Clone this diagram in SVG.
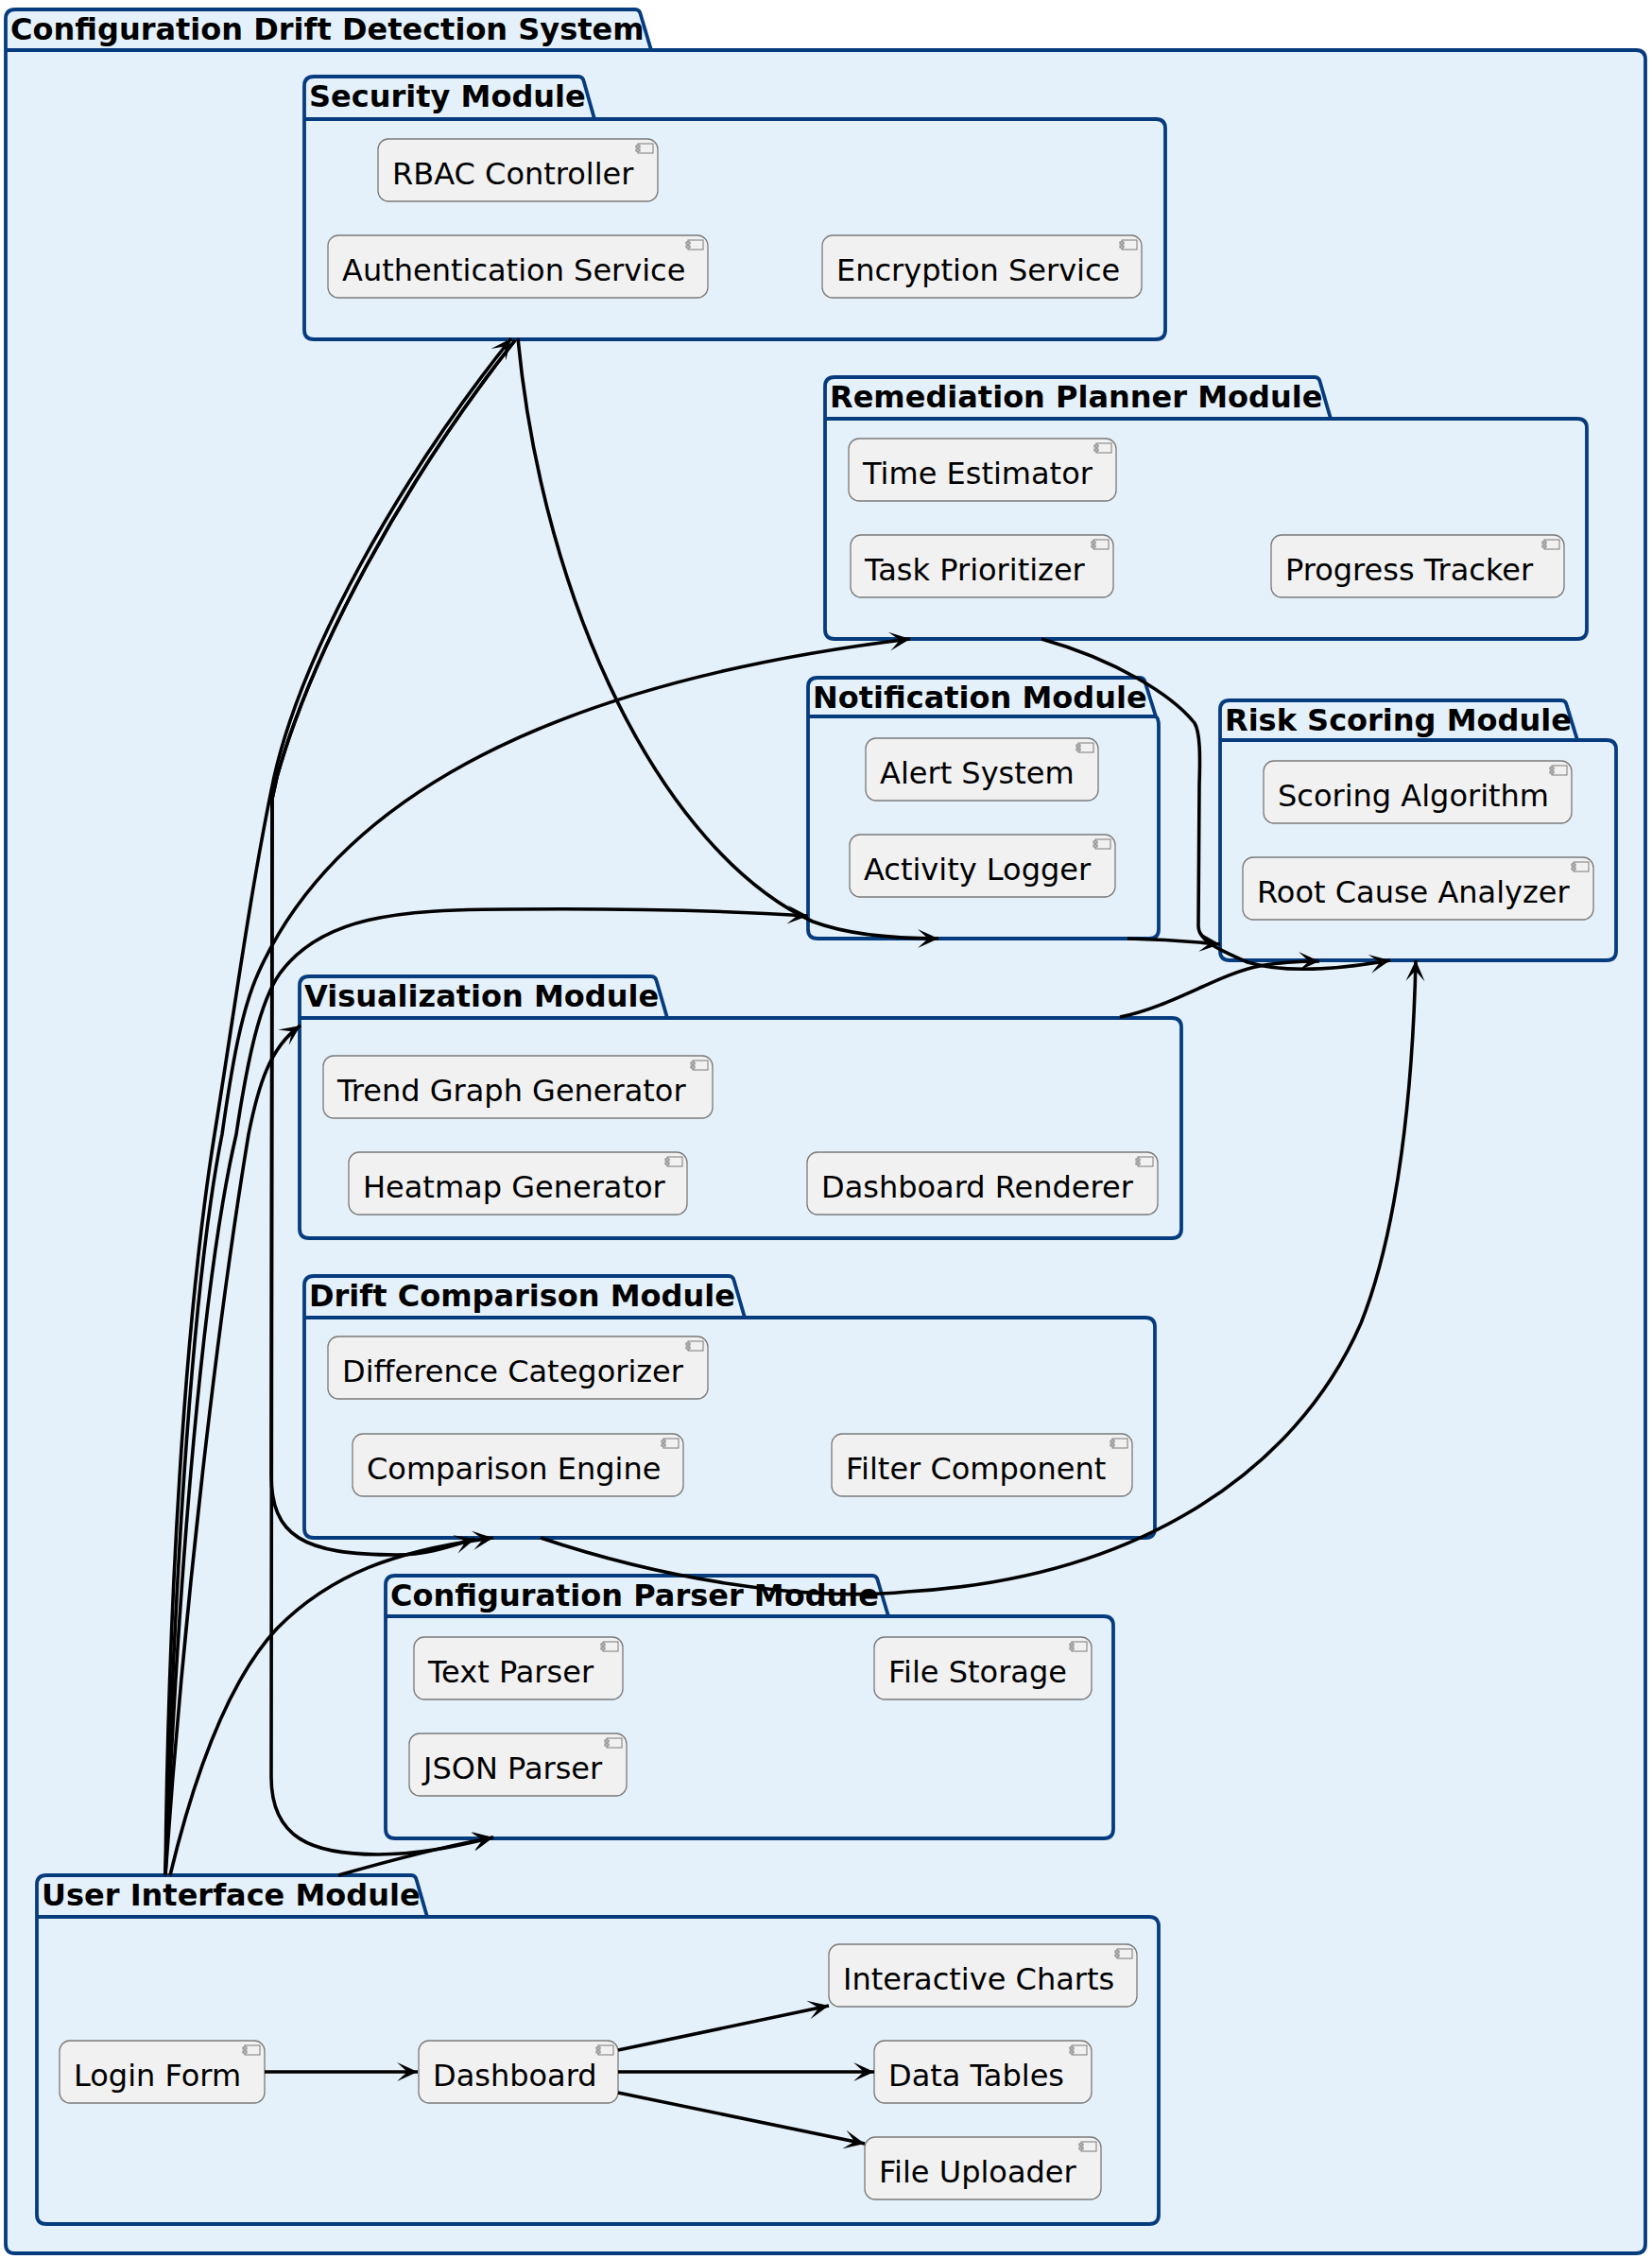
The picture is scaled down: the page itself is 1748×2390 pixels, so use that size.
<svg xmlns="http://www.w3.org/2000/svg" width="1748" height="2390" viewBox="0 0 1748 2390">
<defs>
<style>
.pkg{fill:#E5F1FA;stroke:#063C7E;stroke-width:3.8;stroke-linejoin:round}
.tabline{fill:none;stroke:#063C7E;stroke-width:3.8}
.ptitle{font-family:"DejaVu Sans","Liberation Sans",sans-serif;font-size:32px;font-weight:bold;fill:#000}
.comp{fill:#F1F1F1;stroke:#7A7A7A;stroke-width:1.3}
.icon{fill:#F1F1F1;stroke:#7A7A7A;stroke-width:1}
.ctext{font-family:"DejaVu Sans","Liberation Sans",sans-serif;font-size:32px;fill:#000}
.link{fill:none;stroke:#000;stroke-width:3.6;marker-end:url(#ah)}
</style>
<marker id="ah" viewBox="-24 -12 26 24" refX="0" refY="0" markerWidth="26" markerHeight="24" markerUnits="userSpaceOnUse" orient="auto">
<path d="M0,0 L-22,-10 L-11,0 L-22,10 Z" fill="#000"/>
</marker>
<g id="cicon">
<rect class="icon" x="-21" y="5" width="16" height="10"/>
<rect class="icon" x="-23" y="7" width="4" height="2"/>
<rect class="icon" x="-23" y="11" width="4" height="2"/>
</g>
</defs>

<g id="pkg-system">
<path class="pkg" d="M6,20 Q6,10 16,10 L672,10 Q677,10 678,16 L689,53 L1731,53 Q1741,53 1741,63 L1741,2374 Q1741,2384 1731,2384 L16,2384 Q6,2384 6,2374 Z"/>
<path class="tabline" d="M6,53 L689,53"/>
<text class="ptitle" x="11" y="42">Configuration Drift Detection System</text>
</g>

<g id="pkg-security">
<path class="pkg" d="M322,91 Q322,81 332,81 L612,81 Q617,81 618,87 L629,126 L1223,126 Q1233,126 1233,136 L1233,349 Q1233,359 1223,359 L332,359 Q322,359 322,349 Z"/>
<path class="tabline" d="M322,126 L629,126"/>
<text class="ptitle" x="327" y="113">Security Module</text>
<g id="c-rbac"><rect class="comp" x="400" y="147" width="296" height="66" rx="11"/><use href="#cicon" x="696" y="147"/><text class="ctext" x="415" y="195">RBAC Controller</text></g>
<g id="c-auth"><rect class="comp" x="347" y="249" width="402" height="66" rx="11"/><use href="#cicon" x="749" y="249"/><text class="ctext" x="362" y="297">Authentication Service</text></g>
<g id="c-enc"><rect class="comp" x="870" y="249" width="338" height="66" rx="11"/><use href="#cicon" x="1208" y="249"/><text class="ctext" x="885" y="297">Encryption Service</text></g>
</g>

<g id="pkg-remediation">
<path class="pkg" d="M873,409 Q873,399 883,399 L1391,399 Q1396,399 1397,405 L1408,443 L1669,443 Q1679,443 1679,453 L1679,666 Q1679,676 1669,676 L883,676 Q873,676 873,666 Z"/>
<path class="tabline" d="M873,443 L1408,443"/>
<text class="ptitle" x="878" y="431">Remediation Planner Module</text>
<g id="c-time"><rect class="comp" x="898" y="464" width="283" height="66" rx="11"/><use href="#cicon" x="1181" y="464"/><text class="ctext" x="913" y="512">Time Estimator</text></g>
<g id="c-task"><rect class="comp" x="900" y="566" width="278" height="66" rx="11"/><use href="#cicon" x="1178" y="566"/><text class="ctext" x="915" y="614">Task Prioritizer</text></g>
<g id="c-progress"><rect class="comp" x="1345" y="566" width="310" height="66" rx="11"/><use href="#cicon" x="1655" y="566"/><text class="ctext" x="1360" y="614">Progress Tracker</text></g>
</g>

<g id="pkg-notification">
<path class="pkg" d="M855,727 Q855,717 865,717 L1206,717 Q1211,717 1212,723 L1223,758 Q1226,760 1226,768 L1226,983 Q1226,993 1216,993 L865,993 Q855,993 855,983 Z"/>
<path class="tabline" d="M855,758 L1223,758"/>
<text class="ptitle" x="860" y="749">Notification Module</text>
<g id="c-alert"><rect class="comp" x="916" y="781" width="246" height="66" rx="11"/><use href="#cicon" x="1162" y="781"/><text class="ctext" x="931" y="829">Alert System</text></g>
<g id="c-activity"><rect class="comp" x="899" y="883" width="281" height="66" rx="11"/><use href="#cicon" x="1180" y="883"/><text class="ctext" x="914" y="931">Activity Logger</text></g>
</g>

<g id="pkg-risk">
<path class="pkg" d="M1291,751 Q1291,741 1301,741 L1652,741 Q1657,741 1658,747 L1669,783 L1700,783 Q1710,783 1710,793 L1710,1006 Q1710,1016 1700,1016 L1301,1016 Q1291,1016 1291,1006 Z"/>
<path class="tabline" d="M1291,783 L1669,783"/>
<text class="ptitle" x="1296" y="773">Risk Scoring Module</text>
<g id="c-scoring"><rect class="comp" x="1337" y="805" width="326" height="66" rx="11"/><use href="#cicon" x="1663" y="805"/><text class="ctext" x="1352" y="853">Scoring Algorithm</text></g>
<g id="c-rootcause"><rect class="comp" x="1315" y="907" width="371" height="66" rx="11"/><use href="#cicon" x="1686" y="907"/><text class="ctext" x="1330" y="955">Root Cause Analyzer</text></g>
</g>

<g id="pkg-visualization">
<path class="pkg" d="M317,1043 Q317,1033 327,1033 L689,1033 Q694,1033 695,1039 L706,1077 L1240,1077 Q1250,1077 1250,1087 L1250,1300 Q1250,1310 1240,1310 L327,1310 Q317,1310 317,1300 Z"/>
<path class="tabline" d="M317,1077 L706,1077"/>
<text class="ptitle" x="322" y="1065">Visualization Module</text>
<g id="c-trend"><rect class="comp" x="342" y="1117" width="412" height="66" rx="11"/><use href="#cicon" x="754" y="1117"/><text class="ctext" x="357" y="1165">Trend Graph Generator</text></g>
<g id="c-heatmap"><rect class="comp" x="369" y="1219" width="358" height="66" rx="11"/><use href="#cicon" x="727" y="1219"/><text class="ctext" x="384" y="1267">Heatmap Generator</text></g>
<g id="c-dashrend"><rect class="comp" x="854" y="1219" width="371" height="66" rx="11"/><use href="#cicon" x="1225" y="1219"/><text class="ctext" x="869" y="1267">Dashboard Renderer</text></g>
</g>

<g id="pkg-drift">
<path class="pkg" d="M322,1360 Q322,1350 332,1350 L771,1350 Q776,1350 777,1356 L788,1394 L1212,1394 Q1222,1394 1222,1404 L1222,1617 Q1222,1627 1212,1627 L332,1627 Q322,1627 322,1617 Z"/>
<path class="tabline" d="M322,1394 L788,1394"/>
<text class="ptitle" x="327" y="1382">Drift Comparison Module</text>
<g id="c-diffcat"><rect class="comp" x="347" y="1414" width="402" height="66" rx="11"/><use href="#cicon" x="749" y="1414"/><text class="ctext" x="362" y="1462">Difference Categorizer</text></g>
<g id="c-compeng"><rect class="comp" x="373" y="1517" width="350" height="66" rx="11"/><use href="#cicon" x="723" y="1517"/><text class="ctext" x="388" y="1565">Comparison Engine</text></g>
<g id="c-filter"><rect class="comp" x="880" y="1517" width="318" height="66" rx="11"/><use href="#cicon" x="1198" y="1517"/><text class="ctext" x="895" y="1565">Filter Component</text></g>
</g>

<g id="pkg-parser">
<path class="pkg" d="M408,1677 Q408,1667 418,1667 L923,1667 Q928,1667 929,1673 L940,1710 L1168,1710 Q1178,1710 1178,1720 L1178,1935 Q1178,1945 1168,1945 L418,1945 Q408,1945 408,1935 Z"/>
<path class="tabline" d="M408,1710 L940,1710"/>
<text class="ptitle" x="413" y="1699">Configuration Parser Module</text>
<g id="c-textparser"><rect class="comp" x="438" y="1732" width="221" height="66" rx="11"/><use href="#cicon" x="659" y="1732"/><text class="ctext" x="453" y="1780">Text Parser</text></g>
<g id="c-filestorage"><rect class="comp" x="925" y="1732" width="230" height="66" rx="11"/><use href="#cicon" x="1155" y="1732"/><text class="ctext" x="940" y="1780">File Storage</text></g>
<g id="c-jsonparser"><rect class="comp" x="433" y="1834" width="230" height="66" rx="11"/><use href="#cicon" x="663" y="1834"/><text class="ctext" x="448" y="1882">JSON Parser</text></g>
</g>

<g id="pkg-ui">
<path class="pkg" d="M39,1994 Q39,1984 49,1984 L435,1984 Q440,1984 441,1990 L452,2028 L1216,2028 Q1226,2028 1226,2038 L1226,2343 Q1226,2353 1216,2353 L49,2353 Q39,2353 39,2343 Z"/>
<path class="tabline" d="M39,2028 L452,2028"/>
<text class="ptitle" x="44" y="2016">User Interface Module</text>
<g id="c-charts"><rect class="comp" x="877" y="2057" width="326" height="66" rx="11"/><use href="#cicon" x="1203" y="2057"/><text class="ctext" x="892" y="2105">Interactive Charts</text></g>
<g id="c-login"><rect class="comp" x="63" y="2159" width="217" height="66" rx="11"/><use href="#cicon" x="280" y="2159"/><text class="ctext" x="78" y="2207">Login Form</text></g>
<g id="c-dashboard"><rect class="comp" x="443" y="2159" width="211" height="66" rx="11"/><use href="#cicon" x="654" y="2159"/><text class="ctext" x="458" y="2207">Dashboard</text></g>
<g id="c-tables"><rect class="comp" x="925" y="2159" width="230" height="66" rx="11"/><use href="#cicon" x="1155" y="2159"/><text class="ctext" x="940" y="2207">Data Tables</text></g>
<g id="c-uploader"><rect class="comp" x="915" y="2261" width="250" height="66" rx="11"/><use href="#cicon" x="1165" y="2261"/><text class="ctext" x="930" y="2309">File Uploader</text></g>
</g>

<g id="connectors">
<path class="link" d="M175,1984 C178,1700 195,1400 227,1200 C245,1090 265,940 290,822 C320,690 420,510 541,358"/>
<path class="link" d="M545,360 C425,512 330,690 293,822 L288,845 L287,1880 C287,1945 330,1962 400,1962 C450,1962 490,1951 522,1944"/>
<path class="link" d="M545,360 C425,512 330,690 293,822 L288,845 L287,1560 C287,1625 320,1645 420,1645 C455,1645 485,1633 503,1628"/>
<path class="link" d="M175,1984 C185,1650 205,1350 235,1200 C245,1130 255,1070 273,1030 C340,880 520,730 963,676"/>
<path class="link" d="M175,1984 C190,1650 215,1350 250,1200 C262,1120 275,1060 296,1030 C340,970 420,962 540,962 C650,961 760,963 855,969"/>
<path class="link" d="M175,1984 C195,1700 230,1400 263,1200 C273,1150 285,1108 318,1085"/>
<path class="link" d="M180,1984 C205,1880 240,1780 293,1723 C350,1665 420,1640 522,1627"/>
<path class="link" d="M358,1984 C400,1972 460,1955 522,1944"/>
<path class="link" d="M548,358 C575,640 700,900 860,975 C900,990 950,993 993,993"/>
<path class="link" d="M1102,676 C1180,698 1240,735 1264,765 C1270,775 1270,800 1269,830 L1268,980 C1268,995 1290,1005 1320,1018 C1360,1030 1420,1025 1471,1016"/>
<path class="link" d="M1193,993 C1230,994 1260,996 1291,999"/>
<path class="link" d="M1185,1076 C1240,1065 1290,1030 1333,1022 C1355,1018 1375,1017 1396,1017"/>
<path class="link" d="M572,1627 C700,1670 850,1695 960,1684 C1200,1670 1370,1560 1440,1400 C1480,1300 1495,1150 1498,1016"/>
<path class="link" d="M280,2192 L442,2192"/>
<path class="link" d="M654,2169 L877,2122"/>
<path class="link" d="M654,2192 L925,2192"/>
<path class="link" d="M654,2214 L915,2268"/>
</g>
</svg>
